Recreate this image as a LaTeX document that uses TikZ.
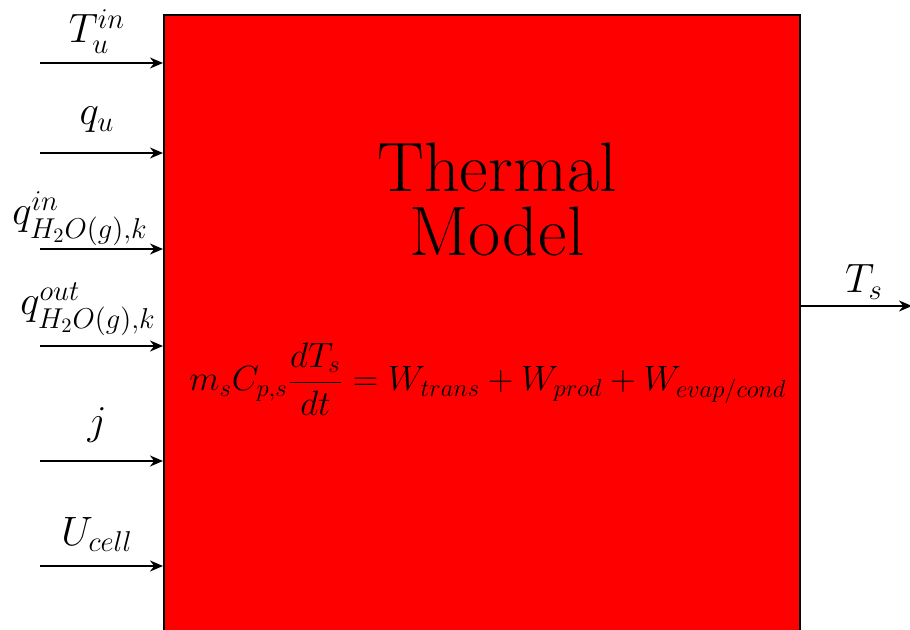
\RequirePackage{fix-cm}
\documentclass[tikz,border=0pt]{standalone}
\usepackage{amsmath}
\usetikzlibrary{arrows.meta}

\begin{document}
\begin{tikzpicture}[
    x=0.5pt,
    y=-0.5pt,
    >={Stealth[length=6.5pt,width=5.5pt]},
    flow/.style={->, line width=1pt},
    sig/.style={anchor=base, inner sep=0pt, font=\fontsize{20.5}{24}\selectfont},
  ]
  \clip (0,0) rectangle (910,630);

  % === Thermal block ===
  \node[draw, line width=1pt, fill=red, anchor=north west, inner sep=0pt,
        minimum width=318pt, minimum height=360pt] (model) at (163,14) {};
  \node[anchor=north, inner sep=0pt, align=center,
        font=\fontsize{35}{32}\selectfont] (title) at (497,143) {Thermal\\Model};
  \node[anchor=base, inner sep=0pt, font=\fontsize{17.6}{20}\selectfont] (balance) at (488,391)
    {$\displaystyle m_sC_{p,s}\frac{dT_s}{dt}=W_{trans}+W_{prod}+W_{evap/cond}$};

  % === Inputs ===
  \foreach \n/\y/\lx/\ly/\txt in {
      1/63/97/43/{T_u^{in}},
      2/153/97/125/{q_u},
      3/249/80/225/{q^{in}_{H_2O(g),k}},
      4/346/88/315/{q^{out}_{H_2O(g),k}},
      5/461/97/435/{j},
      6/566/97/545/{U_{cell}}} {
    \coordinate (in\n) at (40,\y);
    \draw[flow] (in\n) -- (in\n -| model.west);
    \node[sig] (lab\n) at (\lx,\ly) {$\txt$};
  }

  % === Output ===
  \coordinate (out) at (912,306);
  \draw[flow] (model.east |- out) -- (out);
  \node[sig] (labout) at (864,293) {$T_s$};

\end{tikzpicture}
\end{document}
